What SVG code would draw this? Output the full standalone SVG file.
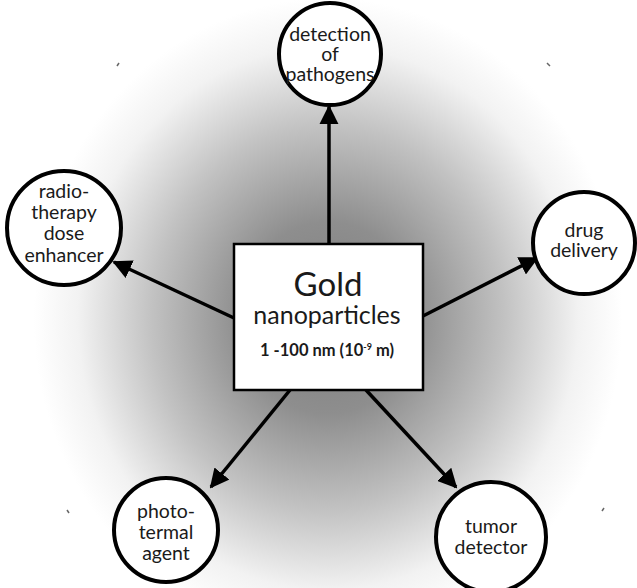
<svg xmlns="http://www.w3.org/2000/svg" width="637" height="588" viewBox="0 0 637 588">
<defs>
<radialGradient id="bg" cx="328" cy="318" r="320" gradientUnits="userSpaceOnUse" gradientTransform="translate(328 318) scale(0.92 1) translate(-328 -318)">
<stop offset="0" stop-color="#7d7d7d"/>
<stop offset="0.3" stop-color="#8e8e8e"/>
<stop offset="0.6" stop-color="#c2c2c2"/>
<stop offset="0.85" stop-color="#f2f2f2"/>
<stop offset="1" stop-color="#ffffff"/>
</radialGradient>
<marker id="ah" viewBox="0 0 10 10" refX="9" refY="5" markerWidth="5.5" markerHeight="5.5" markerUnits="strokeWidth" orient="auto">
<path d="M0,0 L10,5 L0,10 Z" fill="#000"/>
</marker>
<style>
.node circle{fill:#fff;stroke:#000;stroke-width:4}
.t{font-family:Lato,"Open Sans","Liberation Sans",sans-serif;fill:#1a1a1a;text-anchor:middle}
.c{font-size:19.5px}
.edge{stroke:#000;stroke-width:3.5;fill:none;marker-end:url(#ah)}
</style>
</defs>
<rect width="637" height="588" fill="url(#bg)"/>
<g id="specks" stroke="#666" stroke-width="1.5">
<line x1="117" y1="66" x2="119" y2="63"/>
<line x1="547" y1="63" x2="550" y2="66"/>
<line x1="67" y1="510" x2="69" y2="513"/>
<line x1="602" y1="511" x2="604" y2="508"/>
</g>
<g id="connectors">
<line class="edge" x1="329" y1="244" x2="329" y2="107"/>
<line class="edge" x1="234" y1="318" x2="114" y2="262"/>
<line class="edge" x1="423" y1="316" x2="537" y2="258"/>
<line class="edge" x1="290" y1="390" x2="211" y2="487"/>
<line class="edge" x1="366" y1="390" x2="456" y2="487"/>
</g>
<g id="center">
<rect x="234" y="244" width="189" height="146" fill="#fff" stroke="#000" stroke-width="2.5"/>
<text class="t" x="328" y="296" font-size="33">Gold</text>
<text class="t" x="327" y="324" font-size="25">nanoparticles</text>
<text class="t" x="327" y="356" font-size="16.5" font-weight="bold">1 -100 nm (10<tspan font-size="9" dy="-6">-9</tspan><tspan dy="6"> m)</tspan></text>
</g>
<g id="n-pathogens" class="node">
<circle cx="330" cy="54" r="51"/>
<text class="t c" x="330" y="41">detection</text>
<text class="t c" x="330" y="61">of</text>
<text class="t c" x="330" y="81">pathogens</text>
</g>
<g id="n-radio" class="node">
<circle cx="64" cy="228" r="57"/>
<text class="t c" x="64" y="198">radio-</text>
<text class="t c" x="64" y="219">therapy</text>
<text class="t c" x="64" y="240">dose</text>
<text class="t c" x="64" y="262">enhancer</text>
</g>
<g id="n-drug" class="node">
<circle cx="584" cy="243" r="51"/>
<text class="t c" x="584" y="237">drug</text>
<text class="t c" x="584" y="257">delivery</text>
</g>
<g id="n-photo" class="node">
<circle cx="166" cy="530" r="52"/>
<text class="t c" x="166" y="518">photo-</text>
<text class="t c" x="166" y="539">termal</text>
<text class="t c" x="166" y="560">agent</text>
</g>
<g id="n-tumor" class="node">
<circle cx="491" cy="537" r="55"/>
<text class="t c" x="491" y="533">tumor</text>
<text class="t c" x="491" y="554">detector</text>
</g>
</svg>
